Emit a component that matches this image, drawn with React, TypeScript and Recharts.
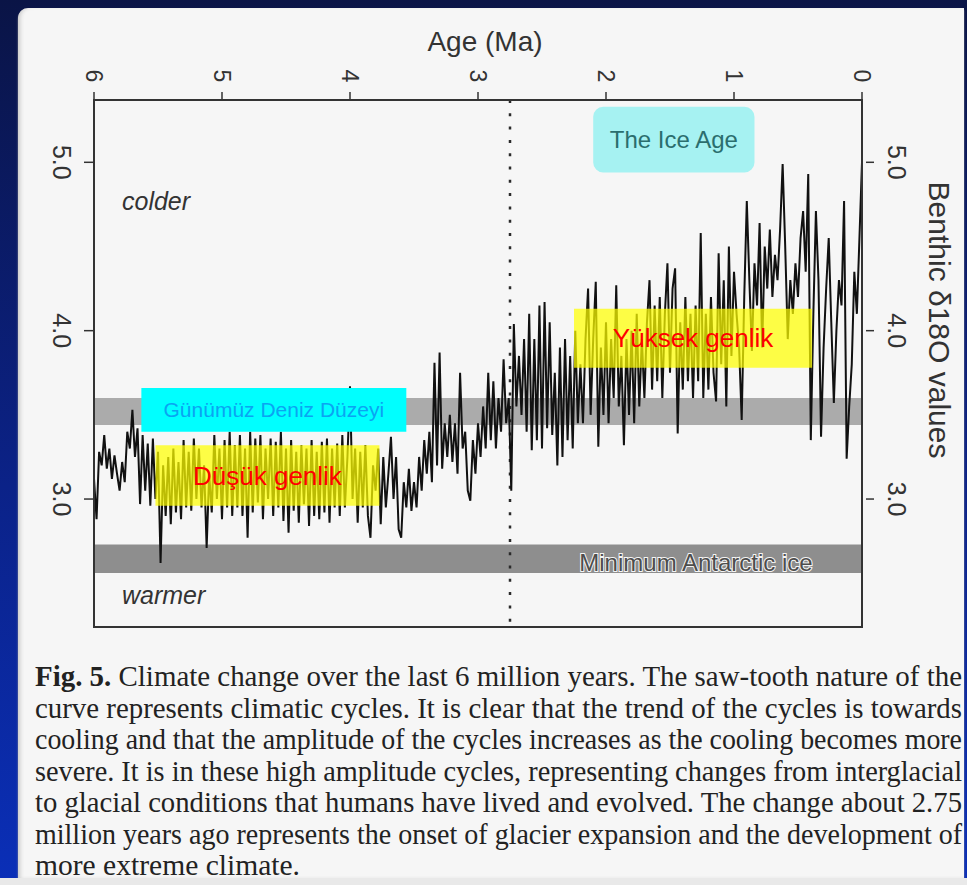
import React from 'react';
import { LineChart, Line, XAxis, YAxis, ReferenceArea, ReferenceLine } from 'recharts';

// ---- data ----
const ageMa = [
  6.00, 5.98, 5.96, 5.94, 5.92, 5.90, 5.88, 5.86, 5.84, 5.82,
  5.80, 5.78, 5.76, 5.74, 5.72, 5.70, 5.68, 5.66, 5.64, 5.62,
  5.60, 5.58, 5.56, 5.54, 5.52, 5.50, 5.48, 5.46, 5.44, 5.42,
  5.40, 5.38, 5.36, 5.34, 5.32, 5.30, 5.28, 5.26, 5.24, 5.22,
  5.20, 5.18, 5.16, 5.14, 5.12, 5.10, 5.08, 5.06, 5.04, 5.02,
  5.00, 4.98, 4.96, 4.94, 4.92, 4.90, 4.88, 4.86, 4.84, 4.82,
  4.80, 4.78, 4.76, 4.74, 4.72, 4.70, 4.68, 4.66, 4.64, 4.62,
  4.60, 4.58, 4.56, 4.54, 4.52, 4.50, 4.48, 4.46, 4.44, 4.42,
  4.40, 4.38, 4.36, 4.34, 4.32, 4.30, 4.28, 4.26, 4.24, 4.22,
  4.20, 4.18, 4.16, 4.14, 4.12, 4.10, 4.08, 4.06, 4.04, 4.02,
  4.00, 3.98, 3.96, 3.94, 3.92, 3.90, 3.88, 3.86, 3.84, 3.82,
  3.80, 3.78, 3.76, 3.74, 3.72, 3.70, 3.68, 3.66, 3.64, 3.62,
  3.60, 3.58, 3.56, 3.54, 3.52, 3.50, 3.48, 3.46, 3.44, 3.42,
  3.40, 3.38, 3.36, 3.34, 3.32, 3.30, 3.28, 3.26, 3.24, 3.22,
  3.20, 3.18, 3.16, 3.14, 3.12, 3.10, 3.08, 3.06, 3.04, 3.02,
  3.00, 2.98, 2.96, 2.94, 2.92, 2.90, 2.88, 2.86, 2.84, 2.82,
  2.80, 2.78, 2.76, 2.74, 2.72, 2.70, 2.68, 2.66, 2.64, 2.62,
  2.60, 2.58, 2.56, 2.54, 2.52, 2.50, 2.48, 2.46, 2.44, 2.42,
  2.40, 2.38, 2.36, 2.34, 2.32, 2.30, 2.28, 2.26, 2.24, 2.22,
  2.20, 2.18, 2.16, 2.14, 2.12, 2.10, 2.08, 2.06, 2.04, 2.02,
  2.00, 1.98, 1.96, 1.94, 1.92, 1.90, 1.88, 1.86, 1.84, 1.82,
  1.80, 1.78, 1.76, 1.74, 1.72, 1.70, 1.68, 1.66, 1.64, 1.62,
  1.60, 1.58, 1.56, 1.54, 1.52, 1.50, 1.48, 1.46, 1.44, 1.42,
  1.40, 1.38, 1.36, 1.34, 1.32, 1.30, 1.28, 1.26, 1.24, 1.22,
  1.20, 1.18, 1.16, 1.14, 1.12, 1.10, 1.08, 1.06, 1.04, 1.02,
  1.00, 0.98, 0.96, 0.94, 0.92, 0.90, 0.88, 0.86, 0.84, 0.82,
  0.80, 0.78, 0.76, 0.74, 0.72, 0.70, 0.68, 0.66, 0.64, 0.62,
  0.60, 0.58, 0.56, 0.54, 0.52, 0.50, 0.48, 0.46, 0.44, 0.42,
  0.40, 0.38, 0.36, 0.34, 0.32, 0.30, 0.28, 0.26, 0.24, 0.22,
  0.20, 0.18, 0.16, 0.14, 0.12, 0.10, 0.08, 0.06, 0.04, 0.02,
  0.00,
];

const benthicD18O = [
  3.12, 2.88, 3.28, 3.20, 3.38, 3.18, 3.30, 3.12, 3.26, 3.15,
  3.05, 3.22, 3.10, 3.40, 3.30, 3.53, 3.25, 3.42, 2.97, 3.38,
  3.05, 3.33, 2.96, 3.36, 3.00, 3.28, 2.62, 3.20, 2.90, 3.25,
  2.85, 3.30, 2.92, 3.22, 2.88, 3.35, 2.95, 3.28, 2.93, 3.36,
  3.00, 3.30, 2.95, 3.20, 2.71, 3.15, 2.92, 3.38, 3.00, 3.30,
  2.88, 3.35, 2.95, 3.40, 2.90, 3.32, 2.95, 3.38, 2.90, 3.30,
  2.77, 3.40, 2.92, 3.36, 2.98, 3.38, 2.88, 3.30, 3.00, 3.36,
  2.90, 3.34, 2.95, 3.40, 2.87, 3.30, 2.80, 3.35, 2.93, 3.28,
  2.86, 3.32, 2.97, 3.30, 2.84, 3.35, 2.90, 3.28, 2.88, 3.34,
  2.92, 3.36, 2.86, 3.30, 2.95, 3.33, 2.90, 3.38, 2.95, 3.25,
  3.67, 3.00, 3.30, 2.86, 3.28, 2.95, 3.32, 2.90, 2.77, 3.20,
  3.05, 3.30, 2.85, 3.25, 2.95, 3.15, 3.37, 3.00, 3.25, 2.82,
  2.77, 3.10, 2.95, 3.18, 2.93, 3.10, 2.95, 3.25, 3.05, 3.35,
  3.15, 3.40, 3.10, 3.81, 3.20, 3.87, 3.18, 3.45, 3.25, 3.50,
  3.22, 3.45, 3.15, 3.75, 3.30, 3.40, 3.05, 2.99, 3.35, 3.15,
  3.45, 3.25, 3.55, 3.30, 3.75, 3.35, 3.70, 3.30, 3.60, 3.40,
  3.83, 3.45, 3.60, 3.05, 4.04, 3.55, 3.85, 3.50, 3.95, 3.40,
  4.10, 3.29, 3.95, 3.35, 4.15, 3.30, 4.17, 3.42, 4.05, 3.38,
  3.75, 3.20, 3.90, 3.25, 3.95, 3.35, 3.85, 3.30, 4.00, 3.45,
  3.80, 3.45, 3.95, 4.25, 3.50, 3.95, 4.29, 3.31, 3.90, 3.50,
  4.05, 3.45, 3.95, 3.60, 4.27, 3.55, 3.85, 3.32, 3.95, 3.50,
  4.00, 3.45, 4.10, 3.55, 3.95, 3.60, 4.05, 4.30, 3.65, 4.15,
  3.70, 4.20, 3.60, 4.10, 4.40, 3.75, 4.25, 4.37, 3.39, 4.05,
  3.65, 4.20, 3.70, 4.10, 3.60, 4.15, 3.70, 4.58, 3.60, 4.10,
  3.65, 4.20, 3.75, 3.58, 4.46, 3.80, 4.30, 3.55, 4.50, 3.85,
  4.35, 4.10, 3.90, 3.47, 4.20, 4.77, 4.30, 3.88, 4.40, 4.15,
  4.64, 3.90, 4.50, 4.25, 4.60, 4.20, 4.45, 4.30, 4.60, 4.99,
  4.50, 3.95, 4.30, 4.10, 4.40, 4.20, 4.55, 4.71, 4.35, 4.93,
  3.35, 4.10, 4.71, 4.30, 3.37, 3.90, 4.25, 4.55, 4.05, 3.57,
  4.00, 4.30, 4.15, 4.77, 3.24, 3.55, 3.80, 4.35, 4.10, 4.55,
  5.00,
];

const ageTicks = [6, 5, 4, 3, 2, 1, 0];
const d18OTicks = [3.0, 4.0, 5.0];
const ageDomain = [0, 6];
const d18ODomain = [2.24, 5.37];
const presentSeaLevelBand = [3.44, 3.60];
const minAntarcticIceBand = [2.56, 2.73];
const glacierOnsetAge = 2.75;

const iceAgeBox = { x1: 2.1, x2: 0.84, y1: 4.94, y2: 5.33, label: 'The Ice Age' };
const seaLevelBox = { x1: 5.63, x2: 3.56, y1: 3.40, y2: 3.66, label: 'Günümüz Deniz Düzeyi' };
const lowAmpBox = { x1: 5.52, x2: 3.77, y1: 2.96, y2: 3.32, label: 'Düşük genlik' };
const highAmpBox = { x1: 2.25, x2: 0.39, y1: 3.78, y2: 4.13, label: 'Yüksek genlik' };

const captionLines = [
  ' Climate change over the last 6 million years. The saw-tooth nature of the',
  'curve represents climatic cycles. It is clear that the trend of the cycles is towards',
  'cooling and that the amplitude of the cycles increases as the cooling becomes more',
  'severe. It is in these high amplitude cycles, representing changes from interglacial',
  'to glacial conditions that humans have lived and evolved. The change about 2.75',
  'million years ago represents the onset of glacier expansion and the development of',
  'more extreme climate.',
];

const rows = ageMa.map((a, i) => ({ age: a, d18O: benthicD18O[i] }));

const SANS = '"Liberation Sans", Arial, Helvetica, sans-serif';
const SERIF = '"Liberation Serif", "Times New Roman", serif';
const INK = '#333';
const CAP_SX = 0.88;

const TopTick = (props: any) => {
  const { x, y, payload } = props;
  return (
    <text transform={`translate(${x - 8},${y - 14}) rotate(90)`} textAnchor="middle"
      fontSize={23} fill={INK} fontFamily={SANS}>{payload.value}</text>
  );
};

const LeftTick = (props: any) => {
  const { x, y, payload } = props;
  return (
    <text transform={`translate(${x - 29},${y}) rotate(90)`} textAnchor="middle"
      fontSize={25} fill={INK} fontFamily={SANS}>{Number(payload.value).toFixed(1)}</text>
  );
};

const RightTick = (props: any) => {
  const { x, y, payload } = props;
  return (
    <g>
      <line x1={x + 4} x2={x + 12} y1={y} y2={y} stroke={INK} strokeWidth={1.5} />
      <text transform={`translate(${x + 26},${y}) rotate(90)`} textAnchor="middle"
        fontSize={25} fill={INK} fontFamily={SANS}>{Number(payload.value).toFixed(1)}</text>
    </g>
  );
};

export default function App() {
  return (
    <div style={{ position: 'absolute', left: 0, top: 0, width: 967, height: 885, overflow: 'hidden',
      background: 'linear-gradient(to bottom, #0a1446 0%, #0b2288 55%, #0a2fb8 100%)' }}>
      <div style={{ position: 'absolute', left: 18, top: 8, width: 946, height: 870,
        background: '#f6f6f6', borderTopLeftRadius: 10, boxShadow: 'inset 4px 0 4px -2px #c8c8c8, 0 2px 2px #9a9a9a' }} />
      <div style={{ position: 'absolute', left: 0, top: 878, width: 967, height: 7, background: '#e9e9e9' }} />
      <div style={{ position: 'absolute', left: 0, top: 0 }}>
        <LineChart width={967} height={885} data={rows}
          margin={{ top: 70, right: 45, bottom: 258, left: 34 }}>
          <XAxis xAxisId="top" orientation="top" type="number" dataKey="age" domain={ageDomain}
            reversed allowDataOverflow ticks={ageTicks} interval={0} height={30}
            tick={<TopTick />} tickSize={8} tickMargin={2}
            axisLine={{ stroke: INK, strokeWidth: 2 }}
            tickLine={{ stroke: INK, strokeWidth: 1.5 }} />
          <YAxis yAxisId="left" orientation="left" type="number" domain={d18ODomain}
            allowDataOverflow ticks={d18OTicks} interval={0} width={60}
            tick={<LeftTick />} tickSize={10} tickMargin={2}
            axisLine={{ stroke: INK, strokeWidth: 2 }}
            tickLine={{ stroke: INK, strokeWidth: 1.5 }} />
          <YAxis yAxisId="right" orientation="right" type="number" domain={d18ODomain}
            allowDataOverflow ticks={d18OTicks} interval={0} width={60}
            tick={<RightTick />} tickSize={0} tickMargin={0}
            axisLine={{ stroke: INK, strokeWidth: 2 }} tickLine={false} />

          <ReferenceArea xAxisId="top" yAxisId="left" y1={presentSeaLevelBand[0]} y2={presentSeaLevelBand[1]}
            fill="#ababab" fillOpacity={1} stroke="none" zIndex={50} />
          <ReferenceArea xAxisId="top" yAxisId="left" y1={minAntarcticIceBand[0]} y2={minAntarcticIceBand[1]}
            fill="#8e8e8e" fillOpacity={1} stroke="none" zIndex={50} />
          <ReferenceLine xAxisId="top" yAxisId="left" x={glacierOnsetAge} stroke="#2a2a2a"
            strokeWidth={2.5} strokeDasharray="3 10.3" zIndex={60} />

          <Line xAxisId="top" yAxisId="left" dataKey="d18O" type="linear" stroke="#111"
            strokeWidth={2} dot={false} activeDot={false} isAnimationActive={false} />

          <ReferenceArea xAxisId="top" yAxisId="left" x1={iceAgeBox.x1} x2={iceAgeBox.x2}
            y1={iceAgeBox.y1} y2={iceAgeBox.y2} fill="#a6f2f2" fillOpacity={1} stroke="none"
            radius={10} zIndex={700}
            label={{ value: iceAgeBox.label, position: 'center', fill: '#2b6e6e', fontSize: 24, fontFamily: SANS }} />
          <ReferenceArea xAxisId="top" yAxisId="left" x1={seaLevelBox.x1} x2={seaLevelBox.x2}
            y1={seaLevelBox.y1} y2={seaLevelBox.y2} fill="#00ffff" fillOpacity={1} stroke="none" zIndex={700}
            label={{ value: seaLevelBox.label, position: 'center', fill: '#0aa4f2', fontSize: 21, fontFamily: SANS }} />
          <ReferenceArea xAxisId="top" yAxisId="left" x1={lowAmpBox.x1} x2={lowAmpBox.x2}
            y1={lowAmpBox.y1} y2={lowAmpBox.y2} fill="#ffff00" fillOpacity={0.72} stroke="none" zIndex={700}
            label={{ value: lowAmpBox.label, position: 'center', fill: '#ff0000', fontSize: 26, fontFamily: SANS }} />
          <ReferenceArea xAxisId="top" yAxisId="left" x1={highAmpBox.x1} x2={highAmpBox.x2}
            y1={highAmpBox.y1} y2={highAmpBox.y2} fill="#ffff00" fillOpacity={0.72} stroke="none" zIndex={700}
            label={{ value: highAmpBox.label, position: 'center', fill: '#ff0000', fontSize: 26, fontFamily: SANS }} />

          <ReferenceArea xAxisId="top" yAxisId="left" x1={ageDomain[1]} x2={ageDomain[0]}
            y1={d18ODomain[0]} y2={d18ODomain[1]} fill="none" stroke={INK} strokeWidth={2}
            ifOverflow="visible" zIndex={800} />
        </LineChart>
      </div>
      <svg width={967} height={885} style={{ position: 'absolute', left: 0, top: 0, pointerEvents: 'none' }}>
        <text x={485} y={51} textAnchor="middle" fontSize={28} fill={INK} fontFamily={SANS}>Age (Ma)</text>
        <text transform="translate(929,320) rotate(90)" textAnchor="middle" fontSize={30} fill={INK}
          fontFamily={SANS}>Benthic δ18O values</text>
        <text x={122} y={210} fontSize={25} fontStyle="italic" fill={INK} fontFamily={SANS}>colder</text>
        <text x={122} y={604} fontSize={25} fontStyle="italic" fill={INK} fontFamily={SANS}>warmer</text>
        <text x={696} y={571} textAnchor="middle" fontSize={24} fill="#4d4d4d" stroke="#f4f4f4"
          strokeWidth={2} paintOrder="stroke" fontFamily={SANS}>Minimum Antarctic ice</text>
        {captionLines.map((line, i) => (
          <text key={i} transform={`translate(35,${686 + 31.5 * i}) scale(${CAP_SX},1)`} x={0} y={0}
            fontSize={30} fill="#222" fontFamily={SERIF}
            textLength={(i < 6 ? 927 : 265) / CAP_SX} lengthAdjust="spacingAndGlyphs">
            {i === 0 ? <tspan fontWeight="bold">Fig. 5.</tspan> : null}{line}
          </text>
        ))}
      </svg>
    </div>
  );
}
